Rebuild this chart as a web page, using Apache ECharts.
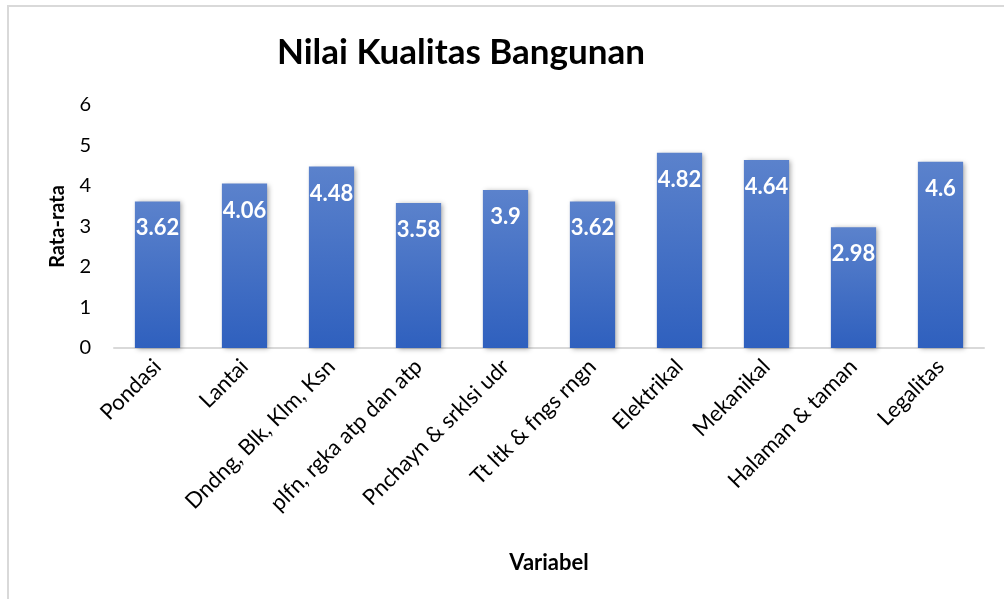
<!DOCTYPE html>
<html>
<head>
<meta charset="utf-8">
<script src="https://cdn.jsdelivr.net/npm/echarts@6/dist/echarts.min.js"></script>
<style>
  html, body { margin: 0; padding: 0; background: #fff; }
  #chart { width: 1004px; height: 599px; }
</style>
</head>
<body>
<div id="chart"></div>
<script>
const categories = [
  'Pondasi', 'Lantai', 'Dndng, Blk, Klm, Ksn', 'plfn, rgka atp dan atp',
  'Pnchayn & srklsi udr', 'Tt ltk & fngs rngn', 'Elektrikal', 'Mekanikal',
  'Halaman & taman', 'Legalitas',
];
const values = [3.62, 4.06, 4.48, 3.58, 3.9, 3.62, 4.82, 4.64, 2.98, 4.6];
const yTicks = [0, 1, 2, 3, 4, 5, 6];

const font = 'Lato, "Open Sans", sans-serif';
const chart = echarts.init(document.getElementById('chart'));

chart.setOption({
  animation: false,
  graphic: [{
    type: 'rect',
    shape: { x: 8, y: 6, width: 1010, height: 600 },
    style: { fill: 'none', stroke: '#d9d9d9', lineWidth: 2 },
    silent: true,
  }],
  title: {
    text: 'Nilai Kualitas Bangunan',
    left: 272,
    top: 30,
    textStyle: { fontFamily: font, fontWeight: 'bold', fontSize: 35, color: '#000' },
  },
  grid: { left: 114, right: 20, top: 105, bottom: 251, containLabel: false },
  xAxis: {
    type: 'category',
    data: categories,
    name: 'Variabel',
    nameLocation: 'middle',
    nameGap: 204,
    nameTextStyle: { fontFamily: font, fontWeight: 'bold', fontSize: 22, color: '#000' },
    axisLine: { lineStyle: { color: '#d9d9d9', width: 2 } },
    axisTick: { show: false },
    axisLabel: {
      rotate: 45,
      interval: 0,
      margin: 15,
      fontFamily: font,
      fontSize: 22,
      color: '#000',
    },
  },
  yAxis: {
    type: 'value',
    min: yTicks[0],
    max: yTicks[yTicks.length - 1],
    interval: 1,
    name: 'Rata-rata',
    nameLocation: 'middle',
    nameGap: 46,
    nameTextStyle: { fontFamily: font, fontWeight: 'bold', fontSize: 20, color: '#000' },
    splitLine: { show: false },
    axisLine: { show: false },
    axisTick: { show: false },
    axisLabel: { margin: 23, fontFamily: font, fontSize: 20, color: '#000' },
  },
  series: [{
    type: 'bar',
    data: values,
    barWidth: '52%',
    itemStyle: {
      color: new echarts.graphic.LinearGradient(0, 0, 0, 1, [
        { offset: 0, color: '#5b82cc' },
        { offset: 1, color: '#2f60be' },
      ]),
      shadowColor: 'rgba(0,0,0,0.35)',
      shadowBlur: 5,
      shadowOffsetX: 2,
      shadowOffsetY: 1,
    },
    label: {
      show: true,
      position: 'insideTop',
      distance: 16,
      fontFamily: font,
      fontWeight: 'bold',
      fontSize: 22,
      color: '#fff',
    },
  }],
});
</script>
</body>
</html>
